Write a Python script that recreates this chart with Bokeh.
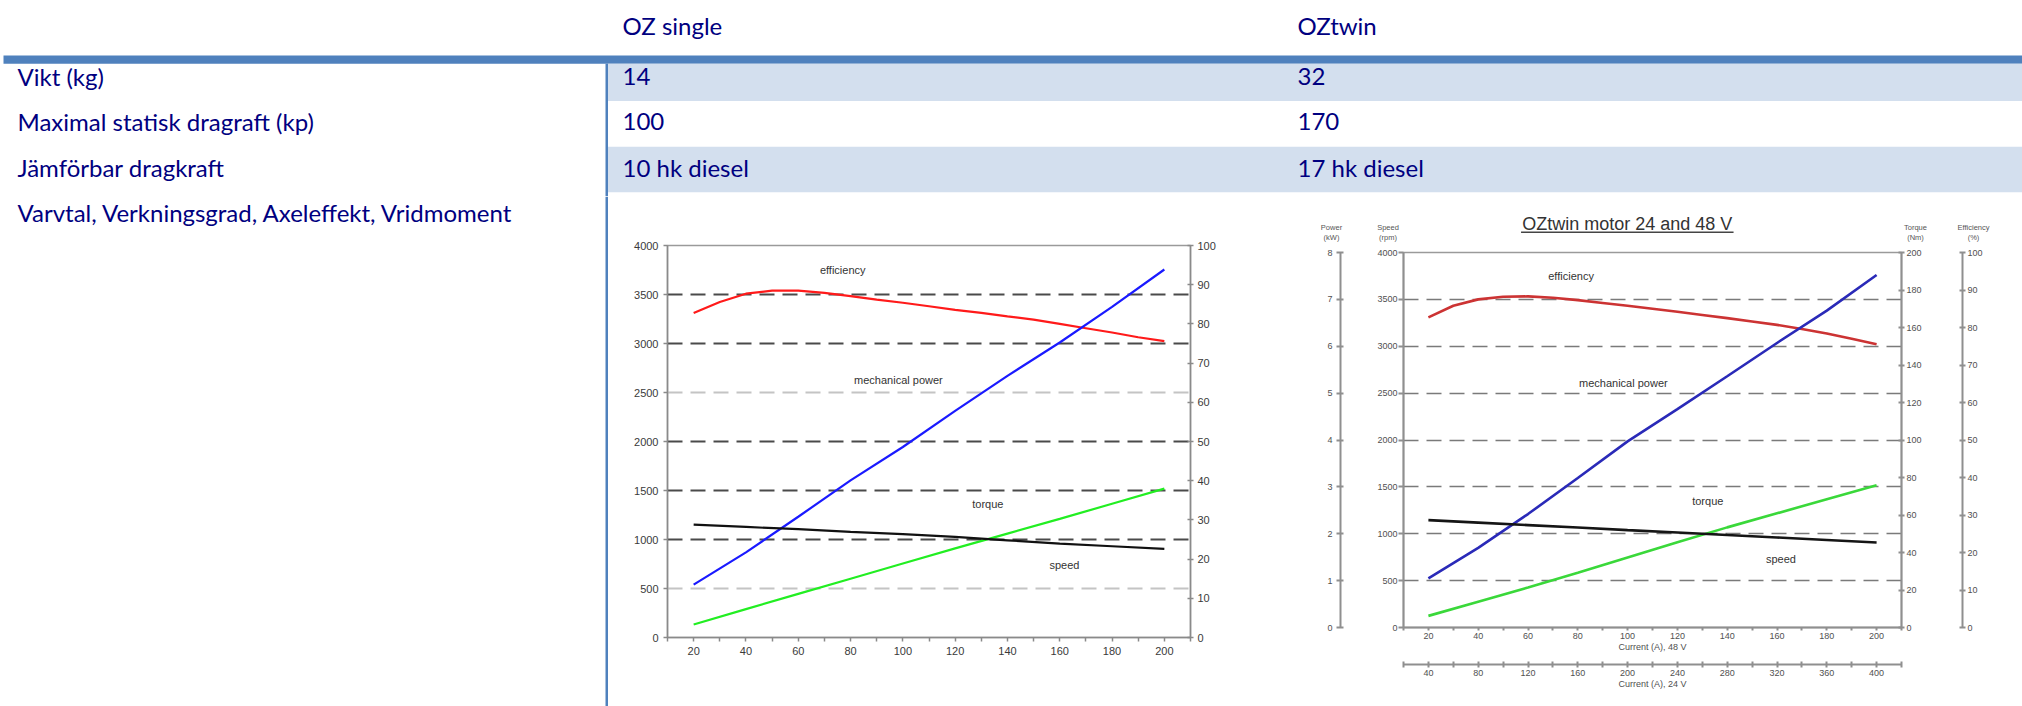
from bokeh.plotting import figure
from bokeh.layouts import column, row
from bokeh.models import Range1d, LinearAxis, FixedTicker
from bokeh.core.properties import value
from bokeh.embed import file_html
from bokeh.resources import INLINE

# ---------------- table data ----------------
col_headers = ["OZ single", "OZtwin"]
row_labels = ["Vikt (kg)", "Maximal statisk dragraft (kp)", "Jämförbar dragkraft",
              "Varvtal, Verkningsgrad, Axeleffekt, Vridmoment"]
oz_single_values = ["14", "100", "10 hk diesel"]
oz_twin_values = ["32", "170", "17 hk diesel"]

# ---------------- OZ single chart (left axis 0-4000, right axis 0-100 %) ----------------
single_current_fine = [20, 30, 40, 50, 60, 70, 80, 90, 100, 110, 120, 130, 140, 150, 160, 170, 180, 190, 200]
single_efficiency_pct = [82.8, 85.6, 87.7, 88.5, 88.5, 87.9, 87.1, 86.2, 85.4, 84.5, 83.6, 82.8,
                         81.9, 81.1, 80.0, 78.9, 77.8, 76.6, 75.6]
single_current = [20, 40, 60, 80, 100, 120, 140, 160, 180, 200]
single_mech_power = [540, 869, 1232, 1604, 1944, 2312, 2670, 3010, 3373, 3755]
single_torque = [133, 290, 445, 600, 755, 910, 1060, 1210, 1365, 1519]
single_speed = [1152, 1128, 1105, 1077, 1054, 1026, 992, 958, 931, 904]

# ---------------- OZtwin chart ----------------
twin_current_fine = [20, 30, 40, 50, 60, 70, 80, 90, 100, 110, 120, 130, 140, 150, 160, 170, 180, 190, 200]
twin_efficiency_pct = [82.7, 85.8, 87.5, 88.2, 88.3, 87.95, 87.3, 86.55, 85.8, 85.0, 84.2, 83.35,
                       82.5, 81.6, 80.7, 79.6, 78.4, 77.0, 75.55]
twin_current_48v = [20, 40, 60, 80, 100, 120, 140, 160, 180, 200]
twin_power_kw = [1.05, 1.70, 2.42, 3.19, 3.97, 4.66, 5.36, 6.07, 6.76, 7.52]
twin_torque_nm = [6.2, 13.75, 21.3, 29.15, 37.35, 45.5, 53.4, 60.9, 68.4, 75.9]
twin_speed_rpm = [1145, 1119, 1092, 1066, 1039, 1013, 986, 960, 933, 907]

curve_names = ["efficiency", "mechanical power", "torque", "speed"]
twin_title = "OZtwin motor 24 and 48 V"
axis_headers_top = ["Power", "Speed", "Torque", "Efficiency"]
axis_headers_unit = ["(kW)", "(rpm)", "(Nm)", "(%)"]

# tick values
speed_ticks = [0, 500, 1000, 1500, 2000, 2500, 3000, 3500, 4000]
pct_ticks = [0, 10, 20, 30, 40, 50, 60, 70, 80, 90, 100]
power_ticks = [0, 1, 2, 3, 4, 5, 6, 7, 8]
torque_ticks = [0, 20, 40, 60, 80, 100, 120, 140, 160, 180, 200]
cur48_ticks = [20, 40, 60, 80, 100, 120, 140, 160, 180, 200]
cur48_minor = [10, 30, 50, 70, 90, 110, 130, 150, 170, 190, 210]
cur24_ticks = [40, 80, 120, 160, 200, 240, 280, 320, 360, 400]
cur24_minor = [20, 60, 100, 140, 180, 220, 260, 300, 340, 380, 420]
grid_levels = [500, 1000, 1500, 2000, 2500, 3000, 3500]

# ---------------- styles ----------------
NAVY = "#000080"
BAR = "#4F81BD"
SHADE = "#D3DFEE"
TFONT = "Lato"
TSIZE = "24px"
CFONT = "Liberation Sans"
W, H = 2022, 706


def blank_fig(w, h, x0, x1, y0, y1):
    f = figure(width=w, height=h, x_range=Range1d(x0, x1), y_range=Range1d(y1, y0),
               toolbar_location=None, output_backend="svg", min_border=0,
               x_axis_location=None, y_axis_location=None, outline_line_color=None,
               frame_align=False)
    f.grid.visible = False
    return f


def table_text(f, xs, ys, texts):
    f.text(x=xs, y=ys, text=texts, text_font=value(TFONT), text_font_size=value(TSIZE),
           text_color=NAVY, text_baseline="alphabetic", text_align="left")


# ---------------- table (top part), page-pixel layout ----------------
ROW_TOP0, ROW_H, BAR_H, BASE_OFF = 55, 45.6, 8.3, 20.6
HEAD_Y = 25.3
COL_X = [17, 622, 1297]
VL_X0, VL_X1 = 605, 607.5
SPLIT_Y = 196
C1_X0, C2_X0 = 620, 1290

top = blank_fig(W, SPLIT_Y, 0, W, 0, SPLIT_Y)
top.quad(left=[3], right=[W], top=[ROW_TOP0], bottom=[ROW_TOP0 + BAR_H],
         fill_color=BAR, line_color=None)
for i in range(len(oz_single_values)):
    if i % 2 == 0:
        t = max(ROW_TOP0 + i * ROW_H, ROW_TOP0 + BAR_H)
        top.quad(left=[VL_X1], right=[W], top=[t], bottom=[ROW_TOP0 + (i + 1) * ROW_H],
                 fill_color=SHADE, line_color=None)
top.quad(left=[VL_X0], right=[VL_X1], top=[ROW_TOP0 + BAR_H], bottom=[SPLIT_Y],
         fill_color=BAR, line_color=None)
table_text(top, [COL_X[1], COL_X[2]], [HEAD_Y, HEAD_Y], col_headers)
n = len(oz_single_values)
ys = [ROW_TOP0 + i * ROW_H + BASE_OFF for i in range(n)]
table_text(top, [COL_X[0]] * n, ys, row_labels[:n])
table_text(top, [COL_X[1]] * n, ys, oz_single_values)
table_text(top, [COL_X[2]] * n, ys, oz_twin_values)

# bottom-left cell (last row label + column rule)
bl = blank_fig(C1_X0, H - SPLIT_Y, 0, C1_X0, SPLIT_Y, H)
bl.quad(left=[VL_X0], right=[VL_X1], top=[SPLIT_Y], bottom=[H], fill_color=BAR, line_color=None)
table_text(bl, [COL_X[0]], [ROW_TOP0 + 3 * ROW_H + BASE_OFF], [row_labels[3]])


def style_axis(ax, size, color, axis_color, tick_in, tick_out, standoff, lw=1.5):
    ax.major_label_text_font = CFONT
    ax.major_label_text_font_size = size
    ax.major_label_text_color = color
    ax.axis_line_color = axis_color
    ax.axis_line_width = lw
    ax.major_tick_line_color = axis_color
    ax.major_tick_line_width = lw
    ax.minor_tick_line_color = axis_color
    ax.minor_tick_line_width = lw
    ax.major_tick_in = tick_in
    ax.major_tick_out = tick_out
    ax.minor_tick_in = tick_in
    ax.minor_tick_out = tick_out
    ax.major_label_standoff = standoff


def hidden_gap(ax, text, gap):
    # an invisible axis label used only to push the next stacked axis outward
    ax.axis_label = text
    ax.axis_label_text_font = CFONT
    ax.axis_label_text_font_size = "9px"
    ax.axis_label_text_alpha = 0
    ax.axis_label_standoff = gap


# ---------------- chart 1: OZ single ----------------
C1_FRAME = (667, 1190, 245, 637)   # left, right, top, bottom (page px)
c1 = figure(width=C2_X0 - C1_X0, height=H - SPLIT_Y, x_range=Range1d(10, 210), y_range=Range1d(0, 4000),
            toolbar_location=None, output_backend="svg", frame_align=False,
            min_border_left=C1_FRAME[0] - C1_X0, min_border_right=C2_X0 - C1_FRAME[1],
            min_border_top=C1_FRAME[2] - SPLIT_Y, min_border_bottom=H - C1_FRAME[3],
            outline_line_color="#9a9a9a", outline_line_width=1.5)
c1.extra_y_ranges = {"eff": Range1d(0, 100)}
c1.grid.visible = False
c1.xaxis.ticker = FixedTicker(ticks=cur48_ticks, minor_ticks=cur48_minor)
c1.yaxis.ticker = FixedTicker(ticks=speed_ticks)
style_axis(c1.xaxis[0], "11px", "#3a3a3a", "#8a8a8a", 0, 4, 5)
style_axis(c1.yaxis[0], "11px", "#3a3a3a", "#8a8a8a", 0, 4, 5)
c1.yaxis.minor_tick_line_color = None
r1 = LinearAxis(y_range_name="eff", ticker=FixedTicker(ticks=pct_ticks))
style_axis(r1, "11px", "#3a3a3a", "#8a8a8a", 3, 3, 4)
r1.minor_tick_line_color = None
c1.add_layout(r1, "right")

c1.hspan(y=grid_levels,
         line_color=["#c4c4c4", "#4a4a4a", "#4a4a4a", "#4a4a4a", "#c4c4c4", "#4a4a4a", "#4a4a4a"],
         line_width=2, line_dash="15 8")
c1.line(single_current_fine, single_efficiency_pct, y_range_name="eff", line_color="#ff1a1a", line_width=2.2)
c1.line(single_current, single_mech_power, line_color="#1a1aff", line_width=2.2)
c1.line(single_current, single_torque, line_color="#22ee22", line_width=2.2)
c1.line(single_current, single_speed, line_color="#111111", line_width=2.2)
c1.text(x=[77, 98.3, 132.5, 161.8], y=[3745, 2623, 1366, 744], text=curve_names,
        text_font=value(CFONT), text_font_size=value("11px"), text_color="#333333",
        text_align="center", text_baseline="middle")

# ---------------- chart 2: OZtwin ----------------
HDR_Y1 = 243
C2_W = W - C2_X0
hdr = blank_fig(C2_W, HDR_Y1 - SPLIT_Y, C2_X0, W, SPLIT_Y, HDR_Y1)
TITLE_CX, TITLE_Y, TITLE_W = 1626.8, 223.3, 212.5
hdr.text(x=[TITLE_CX], y=[TITLE_Y], text=[twin_title], text_font=value(CFONT),
         text_font_size=value("18px"), text_color="#333333", text_align="center",
         text_baseline="middle")
hdr.quad(left=[TITLE_CX - TITLE_W / 2], right=[TITLE_CX + TITLE_W / 2], top=[231], bottom=[232.6],
         fill_color="#444444", line_color=None)
HDR_X = [1331, 1387.5, 1915, 1973]
hdr.text(x=HDR_X, y=[226.7] * 4, text=axis_headers_top, text_font=value(CFONT),
         text_font_size=value("7.5px"), text_color="#555555", text_align="center",
         text_baseline="middle")
hdr.text(x=HDR_X, y=[237.3] * 4, text=axis_headers_unit, text_font=value(CFONT),
         text_font_size=value("7.5px"), text_color="#555555", text_align="center",
         text_baseline="middle")

C2_FRAME = (1403, 1901, 252, 627)
c2 = figure(width=C2_W, height=H - HDR_Y1, x_range=Range1d(10, 210), y_range=Range1d(0, 4000),
            toolbar_location=None, output_backend="svg", frame_align=False,
            min_border_left=C2_FRAME[0] - C2_X0, min_border_right=W - C2_FRAME[1],
            min_border_top=C2_FRAME[2] - HDR_Y1, min_border_bottom=H - C2_FRAME[3],
            outline_line_color="#9a9a9a", outline_line_width=1.5)
c2.extra_y_ranges = {"power": Range1d(0, 8), "torque": Range1d(0, 200), "eff": Range1d(0, 100)}
c2.extra_x_ranges = {"i24": Range1d(20, 420)}
c2.grid.visible = False
AX2 = "#8f8f8f"
LBL2 = "#505050"

c2.yaxis.ticker = FixedTicker(ticks=speed_ticks)
style_axis(c2.yaxis[0], "9px", LBL2, AX2, 0, 5, 1, lw=2)
c2.yaxis.minor_tick_line_color = None
hidden_gap(c2.yaxis[0], "Speed (rpm)", 21)
pax = LinearAxis(y_range_name="power", ticker=FixedTicker(ticks=power_ticks))
style_axis(pax, "9px", LBL2, AX2, 3, 4, 4, lw=2)
pax.minor_tick_line_color = None
c2.add_layout(pax, "left")

tax = LinearAxis(y_range_name="torque", ticker=FixedTicker(ticks=torque_ticks))
style_axis(tax, "9px", LBL2, AX2, 3, 3, 2, lw=2)
tax.minor_tick_line_color = None
hidden_gap(tax, "Torque (Nm)", 25)
c2.add_layout(tax, "right")
eax = LinearAxis(y_range_name="eff", ticker=FixedTicker(ticks=pct_ticks))
style_axis(eax, "9px", LBL2, AX2, 3, 3, 2, lw=2)
eax.minor_tick_line_color = None
c2.add_layout(eax, "right")

c2.xaxis.ticker = FixedTicker(ticks=cur48_ticks, minor_ticks=cur48_minor)
style_axis(c2.xaxis[0], "9px", LBL2, AX2, 0, 3, 2, lw=2)
bax = LinearAxis(x_range_name="i24", ticker=FixedTicker(ticks=cur24_ticks, minor_ticks=cur24_minor))
style_axis(bax, "9px", LBL2, AX2, 3, 3, 2, lw=2)
for ax, lab in [(c2.xaxis[0], "Current (A), 48 V"), (bax, "Current (A), 24 V")]:
    ax.axis_label = lab
    ax.axis_label_text_font = CFONT
    ax.axis_label_text_font_size = "9px"
    ax.axis_label_text_font_style = "normal"
    ax.axis_label_text_color = LBL2
    ax.axis_label_standoff = 0
# invisible spacer between the two current axes
gap_ax = LinearAxis(x_range_name="i24", ticker=FixedTicker(ticks=[]), axis_line_color=None,
                    major_tick_in=0, major_tick_out=0, major_label_standoff=0)
hidden_gap(gap_ax, "gap", 0)
gap_ax.axis_label_text_font_size = "7px"
c2.add_layout(gap_ax, "below")
c2.add_layout(bax, "below")

c2.hspan(y=grid_levels, line_color="#7a7a7a", line_width=1.6, line_dash="15 8")
c2.line(twin_current_fine, twin_efficiency_pct, y_range_name="eff", line_color="#cc3333", line_width=2.6)
c2.line(twin_current_48v, twin_power_kw, y_range_name="power", line_color="#2a2ab8", line_width=2.6)
c2.line(twin_current_48v, twin_torque_nm, y_range_name="torque", line_color="#3ad83a", line_width=2.6)
c2.line(twin_current_48v, twin_speed_rpm, line_color="#151515", line_width=2.6)
c2.text(x=[77.3, 98.3, 132.2, 161.6], y=[3751, 2613, 1351, 736], text=curve_names,
        text_font=value(CFONT), text_font_size=value("11px"), text_color="#333333",
        text_align="center", text_baseline="middle")

layout = column(top, row(bl, c1, column(hdr, c2)))
open("out.html", "w").write(file_html(layout, INLINE, title="OZ motor data"))
